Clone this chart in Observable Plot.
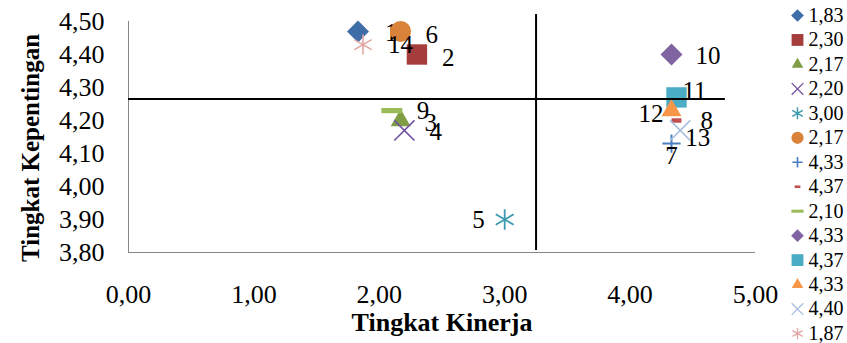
<!DOCTYPE html>
<html>
<head>
<meta charset="utf-8">
<script src="https://cdn.jsdelivr.net/npm/d3@7"></script>
<script src="https://cdn.jsdelivr.net/npm/@observablehq/plot@0.6"></script>
<style>
  html, body { margin: 0; padding: 0; background: #fff; }
  #wrap { position: relative; width: 847px; height: 343px; }
  #wrap svg { position: absolute; top: 0; }
</style>
</head>
<body>
<div id="wrap"></div>
<script>
// ---- data ----
const pointLabels = ["1","2","3","4","5","6","7","8","9","10","11","12","13","14"];
const kinerja     = [1.83, 2.30, 2.17, 2.20, 3.00, 2.17, 4.33, 4.37, 2.10, 4.33, 4.37, 4.33, 4.40, 1.87];
const kepentingan = [4.47, 4.40, 4.20, 4.17, 3.90, 4.47, 4.13, 4.20, 4.23, 4.40, 4.27, 4.23, 4.17, 4.43];
const seriesNames = ["1,83","2,30","2,17","2,20","3,00","2,17","4,33","4,37","2,10","4,33","4,37","4,33","4,40","1,87"];
const xTicks = [0, 1, 2, 3, 4, 5];
const yTicks = [3.8, 3.9, 4.0, 4.1, 4.2, 4.3, 4.4, 4.5];
const meanKinerja = 3.25;
const meanKepentingan = 4.265;
const xTitle = "Tingkat Kinerja";
const yTitle = "Tingkat Kepentingan";

// ---- styles ----
const serif = "'Liberation Serif', 'Times New Roman', serif";
function dash(aspect) {
  return {
    draw(ctx, size) {
      const w = Math.sqrt(size), h = w * aspect;
      ctx.moveTo(-w / 2, -h / 2); ctx.lineTo(w / 2, -h / 2);
      ctx.lineTo(w / 2, h / 2); ctx.lineTo(-w / 2, h / 2); ctx.closePath();
    }
  };
}
const styles = [
  {symbol: "diamond2", fill: "#3F6DA8", r: 9.9},
  {symbol: "square",   fill: "#A63D3D", r: 11.5},
  {symbol: "triangle", fill: "#7F9E44", r: 7.4},
  {symbol: "times",    stroke: "#7050A0", r: 9.2, sw: 1.6},
  {symbol: "asterisk", stroke: "#3B9AAE", r: 9.8, sw: 1.8},
  {symbol: "circle",   fill: "#D9823A", r: 10.5},
  {symbol: "plus",     stroke: "#4A7EC0", r: 5.9, sw: 2},
  {symbol: dash(0.45), fill: "#C0504D", r: 5.6},
  {symbol: dash(0.25), fill: "#9BBB59", r: 11.85},
  {symbol: "diamond2", fill: "#8064A2", r: 9.9},
  {symbol: "square",   fill: "#4BACC6", r: 11.5},
  {symbol: "triangle", fill: "#F79646", r: 7.4},
  {symbol: "times",    stroke: "#A6BCDE", r: 9.2, sw: 1.6},
  {symbol: "asterisk", stroke: "#E3A6A4", r: 9.5, sw: 1.6}
];
// label placement (pixel offsets, like Excel data label positions)
const labelPos = [
  {dx: 27, dy: 2}, {dx: 25, dy: 3}, {dx: 24, dy: 2}, {dx: 25, dy: 2},
  {dx: -20, dy: 0, anchor: "end"}, {dx: 25, dy: 4}, {dx: 0, dy: 12, anchor: "middle"},
  {dx: 24, dy: 0}, {dx: 25, dy: 0}, {dx: 24, dy: 1}, {dx: 6, dy: -6},
  {dx: -8, dy: 3, anchor: "end"}, {dx: 5, dy: 8}, {dx: 25, dy: 0}
];

const rows = pointLabels.map((label, i) => ({label, x: kinerja[i], y: kepentingan[i], i}));
const fmt = d => d.toFixed(2).replace(".", ",");

const marks = [
  Plot.ruleX([0], {y1: 3.8, y2: 4.5, stroke: "#878787", strokeWidth: 1}),
  Plot.ruleY([3.8], {x1: 0, x2: 5, stroke: "#878787", strokeWidth: 1}),
  Plot.axisX({ticks: xTicks, tickFormat: fmt, tickSize: 0, tickPadding: 32, fontSize: 26, fontFamily: serif, fill: "#000", label: null}),
  Plot.axisY({ticks: yTicks, tickFormat: fmt, tickSize: 0, tickPadding: 24, fontSize: 26, fontFamily: serif, fill: "#000", label: null})
];
rows.forEach((row, i) => {
  const s = styles[i];
  marks.push(Plot.dot([row], {
    x: "x", y: "y", symbol: s.symbol, r: s.r,
    fill: s.fill || "none", stroke: s.stroke || "none", strokeWidth: s.sw || 1
  }));
  const p = labelPos[i];
  marks.push(Plot.text([row], {
    x: "x", y: "y", text: "label", dx: p.dx, dy: p.dy,
    textAnchor: p.anchor || "start", lineAnchor: "middle",
    fontSize: 25, fontFamily: serif, fill: "#000"
  }));
});
marks.push(
  Plot.ruleY([meanKepentingan], {x1: 0, x2: 4.76, stroke: "#000", strokeWidth: 2}),
  Plot.ruleX([meanKinerja], {y1: 3.806, y2: 4.521, stroke: "#000", strokeWidth: 2}),
  Plot.text([xTitle], {frameAnchor: "bottom", dy: 70, text: d => d, fontSize: 26, fontWeight: "bold", fontFamily: serif, fill: "#000", textAnchor: "middle", lineAnchor: "middle"}),
  Plot.text([yTitle], {frameAnchor: "left", dx: -98, dy: 11, rotate: -90, text: d => d, fontSize: 25, fontWeight: "bold", fontFamily: serif, fill: "#000", textAnchor: "middle", lineAnchor: "middle"})
);

const chart = Plot.plot({
  width: 847, height: 343,
  marginLeft: 128, marginRight: 92, marginTop: 21, marginBottom: 91,
  x: {domain: [0, 5], label: null},
  y: {domain: [3.8, 4.5], label: null},
  style: {fontFamily: serif, background: "transparent", overflow: "visible"},
  marks
});
chart.style.left = "0px";

// ---- legend ----
const legendRows = seriesNames.map((name, i) => ({name, i}));
const legendMarks = [];
legendRows.forEach((row, i) => {
  const s = styles[i];
  legendMarks.push(Plot.dot([row], {
    y: "i", frameAnchor: "left", dx: 27, symbol: s.symbol, r: s.r * 0.58,
    fill: s.fill || "none", stroke: s.stroke || "none", strokeWidth: s.sw ? s.sw * 0.8 : 1
  }));
});
legendMarks.push(Plot.text(legendRows, {
  y: "i", frameAnchor: "left", dx: 38, text: "name", textAnchor: "start", lineAnchor: "middle",
  fontSize: 20, fontFamily: serif, fill: "#000"
}));
const legend = Plot.plot({
  width: 77, height: 343,
  marginLeft: 0, marginRight: 0, marginTop: 0, marginBottom: 0,
  y: {domain: [0, 13], range: [15, 333], axis: null},
  style: {fontFamily: serif, background: "transparent", overflow: "visible"},
  marks: legendMarks
});
legend.style.left = "770px";

const wrap = document.getElementById("wrap");
wrap.appendChild(chart);
wrap.appendChild(legend);
</script>
</body>
</html>
